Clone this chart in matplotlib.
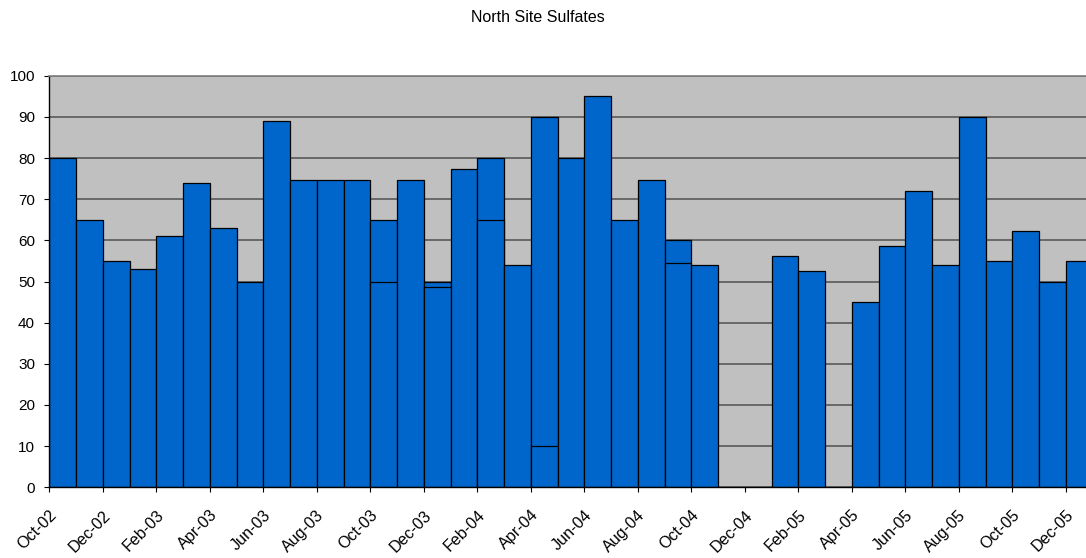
import matplotlib
matplotlib.use("Agg")
import matplotlib.pyplot as plt
from matplotlib.transforms import ScaledTranslation

plt.rcParams['font.family'] = ['Liberation Sans', 'DejaVu Sans']

# Monthly sulfate samples; months with two samples are listed twice,
# the later sample is drawn on top of the earlier one.
sample_months = [
    "2002-10", "2002-11", "2002-12", "2003-01", "2003-02", "2003-03",
    "2003-04", "2003-05", "2003-06", "2003-07", "2003-08", "2003-09",
    "2003-10", "2003-10", "2003-11", "2003-12", "2003-12", "2004-01",
    "2004-02", "2004-02", "2004-03", "2004-04", "2004-04", "2004-05",
    "2004-06", "2004-07", "2004-08", "2004-09", "2004-09", "2004-10",
    "2005-01", "2005-02", "2005-04", "2005-05", "2005-06", "2005-07",
    "2005-08", "2005-09", "2005-10", "2005-11", "2005-12",
]
sulfate = [
    80, 65, 55, 53, 61, 73.9,
    63, 50, 89, 74.7, 74.7, 74.7,
    65, 50, 74.7, 50, 48.7, 77.4,
    80, 65, 54, 90, 10, 80,
    95.1, 65, 74.7, 60, 54.5, 54,
    56.3, 52.6, 45, 58.6, 72.1, 54,
    90, 55, 62.3, 50, 55,
]
tick_labels = [
    "Oct-02", "Dec-02", "Feb-03", "Apr-03", "Jun-03", "Aug-03", "Oct-03",
    "Dec-03", "Feb-04", "Apr-04", "Jun-04", "Aug-04", "Oct-04", "Dec-04",
    "Feb-05", "Apr-05", "Jun-05", "Aug-05", "Oct-05", "Dec-05",
]

start_year, start_month = 2002, 10


def month_index(s):
    y, m = (int(p) for p in s.split("-"))
    return (y - start_year) * 12 + (m - start_month)


fig = plt.figure(figsize=(10.86, 5.58), dpi=100)
ax = fig.add_axes([49.3 / 1086, 70.7 / 558, 1043.3 / 1086, 411.6 / 558])
ax.set_facecolor("#C0C0C0")

for m, v in zip(sample_months, sulfate):
    ax.bar(month_index(m), v, width=1.0, align="edge", color="#0066CC",
           edgecolor="black", linewidth=0.9, zorder=2)

ax.set_xlim(0, 39)
ax.set_ylim(0, 100)
ax.set_yticks(range(0, 101, 10))
ax.yaxis.grid(True, color="#505050", linewidth=1.1, zorder=1)
ax.set_axisbelow(True)

ax.set_xticks(range(0, 2 * len(tick_labels), 2))
ax.set_xticklabels(tick_labels, rotation=45, ha="right", va="center",
                   rotation_mode="anchor")

ax.tick_params(axis="y", length=3.3, width=0.8, pad=7, labelsize=11)
ax.tick_params(axis="x", length=3.3, width=0.8, pad=15, labelsize=11.6)

# nudge the slanted month labels a little to the right
shift = ScaledTranslation(5 / 100, 0, fig.dpi_scale_trans)
for lbl in ax.get_xticklabels():
    lbl.set_transform(lbl.get_transform() + shift)

ax.spines["right"].set_visible(False)
ax.spines["top"].set_color("#808080")
ax.spines["top"].set_linewidth(1.2)
for side in ("left", "bottom"):
    ax.spines[side].set_color("black")
    ax.spines[side].set_linewidth(1.0)

fig.text(538 / 1086, 1 - 17 / 558, "North Site Sulfates", ha="center",
         va="center", fontsize=11.5)

fig.savefig("out.png", dpi=100)
